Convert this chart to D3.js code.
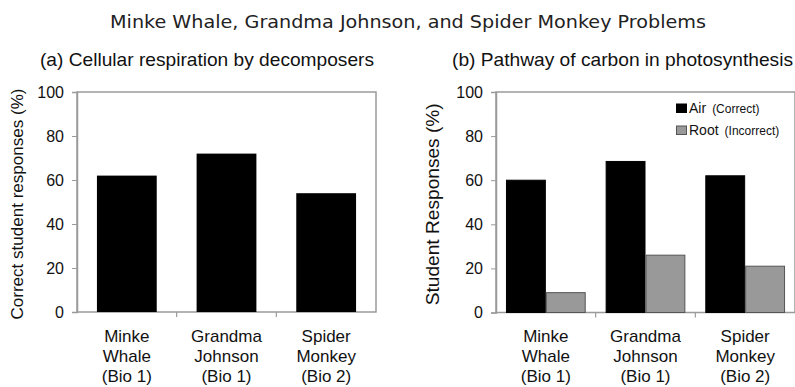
<!DOCTYPE html>
<html><head><meta charset="utf-8">
<script src="https://cdn.jsdelivr.net/npm/d3@7"></script>
<style>body{margin:0;background:#fff}svg{display:block}</style>
</head><body>
<svg id="c" width="795" height="387"></svg>
<script>
const title = "Minke Whale, Grandma Johnson, and Spider Monkey Problems";
const subtitleA = "(a) Cellular respiration by decomposers";
const subtitleB = "(b) Pathway of carbon in photosynthesis";
const categories = [["Minke","Whale","(Bio 1)"],["Grandma","Johnson","(Bio 1)"],["Spider","Monkey","(Bio 2)"]];
const catKeys = ["Minke Whale","Grandma Johnson","Spider Monkey"];
const correctA = [62, 72, 54];
const airB = [60, 68.5, 62];
const rootB = [9, 26, 21];
const yTicks = [0, 20, 40, 60, 80, 100];
const seriesB = [{key:"Air", note:"(Correct)", color:"#000", stroke:"#000"},
                 {key:"Root", note:"(Incorrect)", color:"#999", stroke:"#555"}];
const yTitleA = "Correct student responses (%)";
const yTitleB = "Student Responses (%)";

const svg = d3.select("#c");
const font = "'Liberation Sans', Arial, sans-serif";
const frame = "#9a9a9a";

svg.append("text").attr("x", 110).attr("y", 28)
  .attr("font-family","'DejaVu Sans', Verdana, sans-serif").attr("font-size",17.5)
  .attr("textLength",596).attr("lengthAdjust","spacingAndGlyphs").attr("fill","#222").text(title);

function panel(x0, x1, y0, y1, subtitle, subX, subW, yTitle, yTitleX, yTitleSize, yTitleLen) {
  const g = svg.append("g");
  const y = d3.scaleLinear().domain([0,100]).range([y1, y0]);
  const x = d3.scaleBand().domain(catKeys).range([x0, x1]);
  g.append("text").attr("x", subX).attr("y", 66).attr("font-family",font).attr("font-size",18.5)
    .attr("textLength",subW).attr("lengthAdjust","spacingAndGlyphs").attr("fill","#111").text(subtitle);
  // frame
  g.append("rect").attr("x",x0).attr("y",y0).attr("width",x1-x0).attr("height",y1-y0)
    .attr("fill","none").attr("stroke",frame).attr("stroke-width",1.5);
  const ax = g.append("g").attr("transform",`translate(${x0},0)`)
    .call(d3.axisLeft(y).tickValues(yTicks).tickSize(5).tickPadding(8));
  ax.select(".domain").attr("stroke",frame).attr("stroke-width",1.5);
  ax.selectAll(".tick line").attr("stroke",frame);
  ax.selectAll("text").attr("font-family",font).attr("font-size",16).attr("fill","#111");
  g.append("text").attr("transform",`translate(${yTitleX},${(y0+y1)/2 + 2}) rotate(-90)`)
    .attr("text-anchor","middle").attr("font-family",font).attr("font-size",yTitleSize)
    .attr("textLength",yTitleLen).attr("lengthAdjust","spacingAndGlyphs").attr("fill","#111").text(yTitle);
  // x ticks between categories
  g.selectAll(".xt").data(catKeys.slice(1)).join("line")
    .attr("x1", d => x(d)).attr("x2", d => x(d)).attr("y1", y1).attr("y2", y1+5)
    .attr("stroke", frame).attr("stroke-width",1.2);
  // x labels
  const lab = g.selectAll(".xl").data(categories).join("text")
    .attr("text-anchor","middle").attr("font-family",font).attr("font-size",17).attr("fill","#111");
  lab.each(function(d,i){
    const cx = x(catKeys[i]) + x.bandwidth()/2;
    const t = d3.select(this);
    [342, 362, 382].forEach((yy,j)=> t.append("tspan").attr("x",cx).attr("y",yy).text(d[j]));
  });
  return {g, x, y};
}

// Panel A
{
  const {g, x, y} = panel(77, 376, 92, 312, subtitleA, 40, 334, yTitleA, 23, 16.5, 231);
  const xb = d3.scaleBand().domain(catKeys).range([77,376]).paddingInner(0.4).paddingOuter(0.2);
  g.selectAll(".bar").data(correctA).join("rect")
    .attr("x",(d,i)=>xb(catKeys[i])).attr("width",xb.bandwidth())
    .attr("y",d=>y(d)).attr("height",d=>y(0)-y(d)).attr("fill","#000");
}
// Panel B
{
  const {g, x, y} = panel(496, 795, 92, 312.5, subtitleB, 452, 341, yTitleB, 439, 18, 202);
  const xb = d3.scaleBand().domain(catKeys).range([496,795]).paddingInner(0.2).paddingOuter(0.1);
  const xs = d3.scaleBand().domain(seriesB.map(s=>s.key)).range([0, xb.bandwidth()]);
  const vals = [airB, rootB];
  seriesB.forEach((s, si) => {
    g.selectAll(".b"+si).data(vals[si]).join("rect")
      .attr("x",(d,i)=>xb(catKeys[i]) + xs(s.key) + 0.5).attr("width",xs.bandwidth()-1)
      .attr("y",d=>y(d)).attr("height",d=>y(0)-y(d))
      .attr("fill",s.color).attr("stroke",s.stroke).attr("stroke-width",1);
  });
  // legend
  const lg = g.append("g");
  seriesB.forEach((s, i) => {
    const ly = 104 + i*22;
    lg.append("rect").attr("x",676.5).attr("y",ly).attr("width",10).attr("height",8.5)
      .attr("fill",s.color).attr("stroke",s.stroke);
    const t = lg.append("text").attr("x",689).attr("y",ly+8.5).attr("font-family",font).attr("fill","#111");
    t.append("tspan").attr("font-size",14).text(s.key);
    t.append("tspan").attr("font-size",12).attr("dx",6).text(s.note);
  });
}
</script>
</body></html>
